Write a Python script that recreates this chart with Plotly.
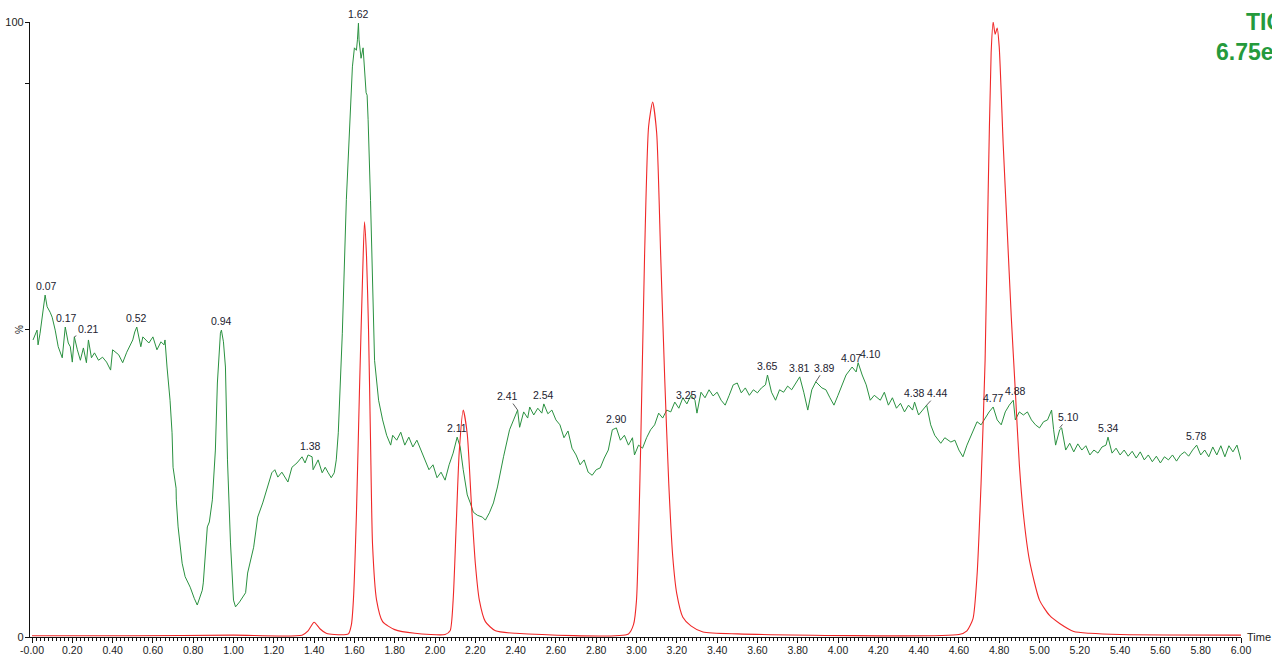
import numpy as np
import plotly.graph_objects as go

# ---------------- data ----------------
green_t = [0.005, 0.025, 0.03, 0.04, 0.065, 0.075, 0.09, 0.10, 0.115, 0.13, 0.15, 0.165, 0.18, 0.19, 0.20,
           0.21, 0.225, 0.24, 0.255, 0.27, 0.28, 0.295, 0.31, 0.33, 0.35, 0.37, 0.39, 0.40, 0.43, 0.45,
           0.47, 0.50, 0.51, 0.52, 0.54, 0.55, 0.58, 0.60, 0.62, 0.64, 0.655,
           0.66, 0.67, 0.685, 0.695, 0.70, 0.715, 0.716, 0.725, 0.745, 0.76, 0.785, 0.805, 0.82, 0.845,
           0.85, 0.87, 0.88, 0.895, 0.91, 0.92, 0.935, 0.94, 0.95, 0.96, 0.97, 0.985, 1.00, 1.01, 1.03,
           1.06, 1.07, 1.10, 1.12, 1.145, 1.165, 1.19, 1.205, 1.22, 1.24, 1.255, 1.27, 1.29, 1.315, 1.34,
           1.355, 1.37, 1.39, 1.395, 1.42, 1.44, 1.455, 1.47, 1.485, 1.50, 1.51, 1.52, 1.53, 1.54, 1.56,
           1.58, 1.59, 1.60, 1.61, 1.615, 1.62, 1.623, 1.633, 1.643, 1.648, 1.658, 1.663, 1.668, 1.68,
           1.69, 1.70, 1.72, 1.74, 1.76, 1.78, 1.79, 1.81, 1.83, 1.85, 1.87, 1.89, 1.91, 1.93, 1.95,
           1.97, 1.99, 2.01, 2.03, 2.05, 2.07, 2.09, 2.11, 2.125, 2.14, 2.16, 2.175, 2.19, 2.21, 2.235,
           2.25, 2.27, 2.29, 2.31, 2.34, 2.36, 2.37, 2.39, 2.41, 2.42, 2.44, 2.46, 2.47, 2.49, 2.51,
           2.53, 2.54, 2.56, 2.58, 2.60, 2.62, 2.64, 2.66, 2.68, 2.70, 2.72, 2.74, 2.76, 2.78, 2.80,
           2.82, 2.84, 2.86, 2.88, 2.90, 2.92, 2.94, 2.96, 2.98, 2.99, 3.01, 3.03, 3.05, 3.07, 3.09,
           3.11, 3.13, 3.15, 3.17, 3.19, 3.21, 3.23, 3.25, 3.27, 3.29, 3.30, 3.32, 3.34, 3.36, 3.38,
           3.40, 3.42, 3.44, 3.46, 3.48, 3.50, 3.52, 3.54, 3.56, 3.58, 3.60, 3.62, 3.64, 3.65, 3.67,
           3.69, 3.71, 3.73, 3.75, 3.77, 3.79, 3.81, 3.83, 3.85, 3.87, 3.89, 3.92, 3.94, 3.96, 3.98,
           4.00, 4.02, 4.04, 4.07, 4.09, 4.10, 4.12, 4.14, 4.16, 4.18, 4.21, 4.23, 4.25, 4.27, 4.29,
           4.31, 4.33, 4.35, 4.37, 4.38, 4.40, 4.42, 4.44, 4.46, 4.48, 4.51, 4.53, 4.56, 4.58, 4.60,
           4.62, 4.64, 4.66, 4.67, 4.69, 4.71, 4.73, 4.75, 4.77, 4.79, 4.81, 4.83, 4.85, 4.87, 4.88,
           4.90, 4.92, 4.94, 4.96, 4.98, 5.00, 5.02, 5.04, 5.06, 5.07, 5.08, 5.10, 5.11, 5.13, 5.15,
           5.17, 5.19, 5.21, 5.23, 5.25, 5.27, 5.29, 5.31, 5.33, 5.34, 5.36, 5.38, 5.40, 5.42, 5.44,
           5.46, 5.48, 5.50, 5.52, 5.54, 5.56, 5.58, 5.60, 5.62, 5.64, 5.66, 5.68, 5.70, 5.72, 5.74,
           5.76, 5.78, 5.80, 5.82, 5.84, 5.86, 5.88, 5.90, 5.92, 5.94, 5.96, 5.98, 6.00]
green_y = [48.3, 49.9, 47.5, 49.4, 55.6, 53.7, 52.8, 52.0, 49.9, 47.2, 45.4, 50.4, 47.8, 47.2, 44.7,
           48.8, 46.7, 45.0, 47.0, 44.6, 48.3, 45.4, 46.2, 45.0, 45.5, 44.7, 43.4, 46.7, 45.9, 44.6,
           46.3, 48.3, 49.6, 50.4, 47.2, 48.8, 47.8, 48.8, 46.7, 48.0, 47.5,
           48.3, 43.9, 38.5, 33.2, 27.6, 24.2, 22.3, 17.9, 12.0, 9.8, 8.1, 6.3, 5.2, 7.6,
           8.8, 17.9, 18.7, 22.3, 30.4, 41.3, 49.4, 49.9, 48.0, 43.9, 28.8, 15.3, 6.0, 4.9, 5.7,
           7.2, 10.4, 14.6, 19.5, 21.8, 23.9, 26.7, 27.2, 26.0, 26.8, 26.0, 25.2, 27.6, 28.3, 29.3,
           28.3, 29.6, 29.3, 27.2, 28.8, 26.7, 27.6, 26.7, 25.9, 26.7, 28.8, 33.2, 41.3, 49.4, 71.1,
           84.6, 92.7, 95.8, 95.4, 97.1, 99.8, 97.1, 94.1, 95.8, 93.8, 88.5, 88.1, 84.1, 71.0,
           58.0, 45.0, 38.5, 35.3, 32.8, 31.2, 32.8, 32.0, 33.3, 31.2, 32.5, 30.9, 32.0, 30.4, 28.8,
           27.2, 28.0, 25.9, 26.8, 25.5, 28.0, 29.9, 32.5, 30.9, 27.2, 23.1, 21.8, 20.3, 19.8, 19.5,
           19.0, 20.2, 21.8, 24.4, 29.3, 32.0, 33.7, 35.3, 36.9, 34.1, 36.6, 35.6, 37.4, 36.1, 37.2,
           36.4, 37.9, 36.3, 36.9, 35.3, 34.5, 32.4, 33.5, 30.7, 29.6, 28.0, 28.8, 26.8, 26.3, 27.2,
           27.5, 29.1, 30.4, 33.7, 34.0, 32.0, 32.8, 31.2, 32.4, 29.6, 31.2, 30.7, 32.4, 33.7, 34.5,
           36.4, 35.6, 36.9, 36.6, 38.2, 37.2, 38.9, 37.9, 39.3, 38.5, 36.4, 39.8, 38.9, 40.2, 39.2,
           39.8, 38.5, 37.7, 39.3, 41.0, 41.3, 39.7, 40.5, 39.3, 40.2, 39.7, 40.5, 41.0, 42.6, 39.8,
           38.5, 40.2, 39.8, 40.8, 40.2, 41.3, 42.3, 39.8, 36.9, 40.2, 41.5, 40.5, 40.2, 38.9, 37.7,
           39.3, 41.0, 42.6, 43.9, 43.1, 44.6, 42.6, 41.0, 38.5, 39.3, 38.5, 39.8, 37.7, 38.9, 37.2,
           38.0, 36.6, 37.7, 36.9, 38.2, 36.1, 36.9, 37.7, 34.5, 32.8, 31.5, 32.4, 31.7, 32.0, 30.4,
           29.3, 31.2, 32.8, 33.7, 35.0, 34.5, 35.6, 36.6, 37.4, 35.3, 34.5, 36.6, 37.7, 38.5, 35.3,
           36.6, 36.1, 36.6, 35.3, 34.5, 34.0, 35.0, 35.3, 36.9, 33.7, 31.2, 33.7, 34.0, 30.4, 31.5,
           30.1, 31.4, 30.4, 31.1, 29.6, 30.4, 29.9, 30.9, 31.2, 32.5, 29.9, 30.7, 29.6, 30.4, 29.4,
           30.2, 29.1, 30.1, 28.8, 29.6, 28.5, 29.4, 28.3, 29.3, 28.8, 29.6, 28.6, 29.6, 30.1, 29.4,
           30.4, 31.2, 29.6, 30.4, 29.3, 30.9, 29.6, 31.1, 29.3, 31.1, 30.1, 31.2, 28.8]

red_t = [0.0, 0.5, 1.0, 1.34, 1.37, 1.40, 1.43, 1.46, 1.50, 1.57, 1.585, 1.595, 1.61, 1.625, 1.64,
         1.65, 1.66, 1.67, 1.68, 1.69, 1.71, 1.74, 1.80, 1.90, 2.05, 2.075, 2.09, 2.105, 2.12, 2.14,
         2.16, 2.18, 2.20, 2.22, 2.25, 2.30, 2.40, 2.96, 2.985, 3.00, 3.02, 3.04, 3.06, 3.08, 3.10,
         3.12, 3.14, 3.16, 3.18, 3.20, 3.23, 3.27, 3.33, 3.50, 4.60, 4.64, 4.67, 4.69, 4.71, 4.73,
         4.745, 4.76, 4.77, 4.78, 4.79, 4.80, 4.82, 4.84, 4.86, 4.88, 4.90, 4.92, 4.95, 5.00, 5.05,
         5.10, 5.17, 5.25, 5.40, 6.00]
red_y = [0.2, 0.2, 0.3, 0.3, 1.0, 2.4, 1.3, 0.6, 0.4, 0.5, 2.0, 6.0, 20.0, 40.0, 58.0,
         67.5, 62.0, 50.0, 32.0, 15.0, 6.0, 2.5, 1.2, 0.6, 0.4, 1.0, 6.0, 18.0, 30.0, 36.9,
         33.0, 22.0, 12.0, 6.0, 2.5, 1.0, 0.6, 0.5, 2.0, 6.0, 30.0, 62.0, 83.0, 87.0, 82.0,
         62.0, 42.0, 25.0, 13.0, 7.0, 3.2, 1.8, 0.8, 0.5, 0.4, 1.0, 3.0, 10.0, 25.0, 45.0,
         72.0, 95.0, 100.0, 98.0, 99.0, 96.0, 80.0, 66.0, 52.0, 40.0, 28.0, 20.0, 12.5, 6.0, 3.5,
         2.2, 0.9, 0.6, 0.4, 0.3]

label_t = [0.07, 0.17, 0.21, 0.52, 0.94, 1.38, 1.62, 2.11, 2.41, 2.54, 2.90, 3.25, 3.65, 3.81,
           3.89, 4.07, 4.10, 4.38, 4.44, 4.77, 4.88, 5.10, 5.34, 5.78]

x_tickvals = [0.0, 0.2, 0.4, 0.6, 0.8, 1.0, 1.2, 1.4, 1.6, 1.8, 2.0, 2.2, 2.4, 2.6, 2.8, 3.0,
              3.2, 3.4, 3.6, 3.8, 4.0, 4.2, 4.4, 4.6, 4.8, 5.0, 5.2, 5.4, 5.6, 5.8, 6.0]
x_ticktext = ["-0.00", "0.20", "0.40", "0.60", "0.80", "1.00", "1.20", "1.40", "1.60", "1.80",
              "2.00", "2.20", "2.40", "2.60", "2.80", "3.00", "3.20", "3.40", "3.60", "3.80",
              "4.00", "4.20", "4.40", "4.60", "4.80", "5.00", "5.20", "5.40", "5.60", "5.80", "6.00"]
y_tickvals = [0, 50, 90, 100]
y_ticktext = ["0", "", "", "100"]

# ---------------- styles ----------------
GREEN = "#2a9140"
RED = "#f02828"
FONT = "Liberation Sans, Arial, sans-serif"
LABEL_COLOR = "#222230"
leader = {0.21: (14, -8), 2.41: (-10, -14), 3.89: (9, -14), 4.44: (11, -12), 5.10: (9, -11)}
xshift_extra = {4.10: 12, 4.07: -1}

fig = go.Figure()
fig.add_trace(go.Scatter(x=green_t, y=green_y, mode="lines",
                         line=dict(color=GREEN, width=1), hoverinfo="skip"))
fig.add_trace(go.Scatter(x=red_t, y=red_y, mode="lines",
                         line=dict(color=RED, width=1.1, shape="spline", smoothing=0.6),
                         hoverinfo="skip"))

gt = np.array(green_t)
gy = np.array(green_y)
annotations = []
for t in label_t:
    m = (gt >= t - 0.012) & (gt <= t + 0.012)
    ypk = float(gy[m].max())
    txt = f"{t:.2f}"
    if t in leader:
        dx, dy = leader[t]
        annotations.append(dict(x=t, y=ypk, text=txt, showarrow=True, arrowhead=0,
                                arrowwidth=0.8, arrowcolor="#333", ax=dx, ay=dy,
                                standoff=0, startstandoff=0,
                                font=dict(family=FONT, size=10.5, color=LABEL_COLOR)))
    else:
        annotations.append(dict(x=t, y=ypk, text=txt, showarrow=False, yanchor="bottom",
                                yshift=1, xshift=xshift_extra.get(t, 0),
                                font=dict(family=FONT, size=10.5, color=LABEL_COLOR)))

# axis-side texts
annotations.append(dict(xref="paper", yref="paper", x=1, y=0, xanchor="left", yanchor="middle",
                        xshift=4, text="Time", showarrow=False,
                        font=dict(family=FONT, size=11, color="#222")))
annotations.append(dict(xref="paper", yref="y", x=0, y=50, xanchor="right", yanchor="middle",
                        xshift=-3, text="%", textangle=-90, showarrow=False,
                        font=dict(family=FONT, size=10, color="#222")))
annotations.append(dict(xref="paper", yref="paper", x=1, y=1, xanchor="left", yanchor="middle",
                        xshift=3, yshift=0, text="<b>TIC</b>", showarrow=False,
                        font=dict(family=FONT, size=23, color="#259a3c")))
annotations.append(dict(xref="paper", yref="paper", x=1, y=1, xanchor="left", yanchor="middle",
                        xshift=-27, yshift=-30, text="<b>6.75e7</b>", showarrow=False,
                        font=dict(family=FONT, size=23, color="#259a3c")))

fig.update_layout(
    width=1272, height=655,
    margin=dict(l=30, r=31, t=22, b=18, autoexpand=False),
    paper_bgcolor="white", plot_bgcolor="white",
    showlegend=False,
    annotations=annotations,
    xaxis=dict(range=[-0.01, 6.0], showgrid=False, zeroline=False, showline=True, automargin=False,
               linecolor="#111", linewidth=1, ticks="outside", ticklen=5, tickwidth=1,
               tickcolor="#111", tickvals=x_tickvals, ticktext=x_ticktext,
               tickfont=dict(family=FONT, size=10.5, color="#222"), ticklabelstandoff=-2,
               minor=dict(dtick=0.02, tick0=0, ticks="outside", ticklen=3, tickcolor="#111",
                          tickwidth=1, showgrid=False)),
    yaxis=dict(range=[0, 100], showgrid=False, zeroline=False, showline=True, automargin=False,
               linecolor="#111", linewidth=1.2, ticks="outside", ticklen=4, tickwidth=1,
               tickcolor="#111", tickvals=y_tickvals, ticktext=y_ticktext,
               tickfont=dict(family=FONT, size=11, color="#222"), ticklabelstandoff=-1),
)

# remove the default 8px page margin so the 1272x655 figure fills the window exactly
fig.write_html("out.html", config={"displayModeBar": False},
               post_script="document.body.style.margin='0';document.body.style.overflow='hidden';")
